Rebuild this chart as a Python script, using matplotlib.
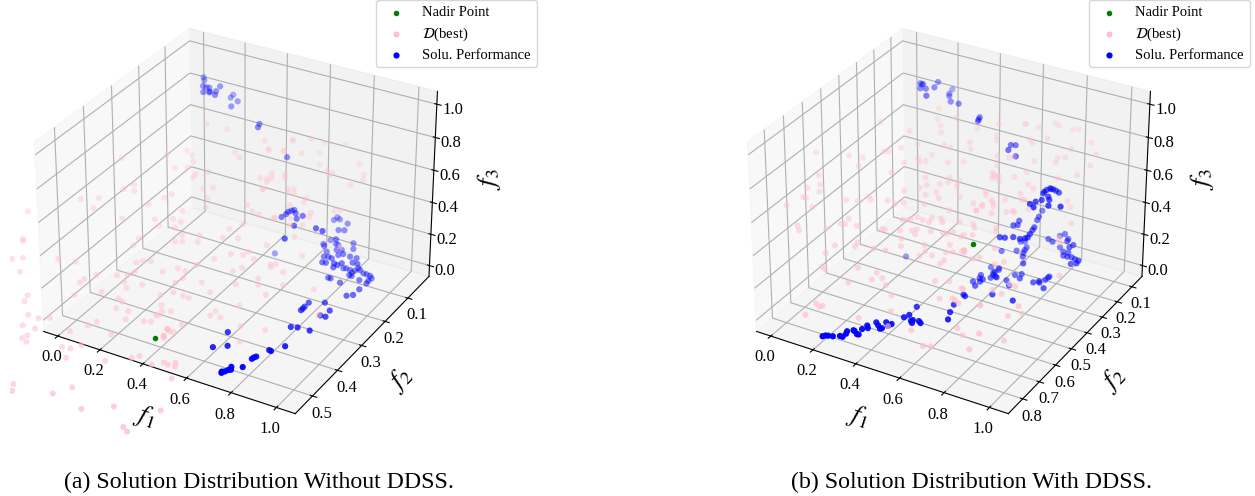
import numpy as np
import matplotlib
matplotlib.use('Agg')
import matplotlib.pyplot as plt

plt.rcParams['font.family'] = ['Liberation Serif', 'DejaVu Serif']
plt.rcParams['mathtext.fontset'] = 'stix'

# All f1, f2 values in thousandths, f3 values in hundredths.
pa_f1 = [127,214,374,474,406,464,117,53,147,296,321,-98,165,114,157,242,201,198,518,439,480,472,6,-18,21,262,292,473,562,583,161,142,-87,-146,103,296,-83,-307,310,234,451,481,510,572,602,42,158,221,254,188,244,477,645,439,-260,142,287,349,434,490,-257,-254,-220,-93,-198,-28,137,187,203,232,293,341,371,275,299,356,494,540,448,399,536,560,553,587,653,713,603,71,145,180,198,41,32,184,249,126,202,196,216,362,378,453,501,572,638,651,-121,-121,38,334,415,375,437,358,209,255,401,371,359,368,554,547,627,583,465,354,265,329,169,0,-37,-80,-76,-27,148,95,243,-54,-39,-30,105,139,164,161,451,436,429,402,383,305,509,530,549,562,499,604,683,691,735,88,110,254,295,405,502,669,605,633,774,793,474,536,581,657,406,464,529,596,602,737,518,480,472,674,668,686,788,794,767,474,562,584,640,639,774,762,573,691,705,675,604,668,834,723,652,676,713,802,883,737,766,882]
pa_f2 = [98,89,71,43,84,71,168,195,173,125,129,248,183,213,199,188,203,212,114,146,135,147,284,304,295,224,210,166,140,134,264,277,343,365,305,237,367,437,254,282,209,214,214,204,168,357,327,307,305,334,319,246,203,270,490,374,326,310,290,278,492,534,520,489,547,476,391,419,408,401,407,387,383,344,336,323,309,300,336,363,337,322,290,298,289,291,261,477,458,446,434,497,506,462,448,500,469,495,495,414,398,388,396,356,325,336,578,589,531,448,428,432,425,464,512,504,463,472,485,483,420,434,389,425,474,499,522,505,552,591,603,607,630,623,567,592,558,649,641,651,627,624,604,655,495,497,513,580,593,627,576,578,566,578,612,624,432,441,381,779,799,768,733,784,747,715,794,803,769,796,43,22,6,-16,84,71,55,40,43,-4,114,135,147,55,71,80,25,35,63,165,140,134,133,142,111,125,204,166,173,179,167,206,167,223,287,288,291,244,296,381,410,237]
pa_f3 = [66,65,61,61,59,58,58,57,57,58,56,56,55,53,53,52,51,50,51,50,50,49,48,47,46,47,47,47,47,47,45,44,44,44,42,44,41,40,41,40,42,40,39,38,42,38,38,38,37,36,35,36,36,35,32,32,33,33,32,32,31,26,26,26,22,25,30,25,25,25,22,23,22,31,31,31,27,27,26,24,22,23,28,26,24,22,30,21,21,21,22,20,19,19,18,16,17,14,13,19,20,19,16,18,20,18,15,13,15,15,15,16,14,12,11,10,10,10,9,9,10,9,12,8,6,7,8,7,7,8,8,9,6,5,6,4,3,2,3,1,0,0,0,0,4,4,2,0,0,0,0,0,0,0,4,2,8,0,0,0,0,0,0,0,0,0,0,0,61,62,62,62,59,58,58,58,57,58,51,50,49,53,51,50,53,52,49,47,47,47,45,44,43,42,38,39,38,38,42,34,34,30,25,23,22,25,14,8,3,22]
ba_f1 = [57,40,79,98,109,108,131,130,150,163,142,165,161,207,207,343,352,481,563,567,566,573,580,598,633,623,641,728,761,658,682,684,701,745,737,759,763,689,700,734,746,794,815,730,699,755,739,754,769,800,773,784,759,777,798,832,861,863,885,818,827,812,800,810,830,846,850,866,854,858,846,890,905,923,937,934,937,900,841,781,792,933,911,931,498,804,804,805,804,860,905,912,890,906,829,854,877,846,831,626,630,675,810,805,803,801,762,771,762,756,750,747,751]
ba_f2 = [49,38,72,74,72,95,90,87,79,94,56,33,19,40,66,67,81,73,166,151,141,134,129,139,141,157,184,171,174,237,51,38,43,50,82,77,117,102,81,89,90,69,89,125,108,141,145,166,164,158,143,125,109,104,117,119,118,137,137,160,150,172,117,114,116,123,113,106,102,135,134,114,114,116,123,134,145,141,169,164,164,172,206,197,135,266,283,291,298,250,271,295,296,354,361,356,426,454,448,433,493,475,480,485,491,524,534,543,547,554,561,557]
ba_f3 = [85,85,85,85,85,85,85,85,85,85,85,76,76,76,76,70,70,55,33,33,33,33,33,33,33,33,33,33,33,33,20,20,20,20,20,20,20,12,12,12,12,12,12,12,12,12,12,12,12,12,12,12,12,12,12,12,12,12,12,12,12,12,3,3,3,3,3,3,3,3,3,3,3,3,3,3,3,3,3,3,3,3,3,3,3,3,3,3,3,3,3,3,3,3,3,3,3,3,2,2,2,2,2,2,2,2,2,2,2,2,2,2]
pb_f1 = [161,242,182,-18,208,346,105,226,432,264,291,166,351,368,115,63,78,241,-176,-50,1,479,201,215,232,316,370,161,8,138,506,506,268,353,395,536,-113,-89,-126,-75,289,269,333,360,399,512,221,341,307,360,430,-109,-113,108,120,36,81,191,218,235,-159,-61,328,497,521,559,421,575,76,57,-74,-55,27,99,142,292,315,281,325,347,379,379,412,426,479,529,546,623,240,229,291,332,345,352,402,443,468,482,516,519,549,316,160,396,484,106,79,180,227,296,318,410,411,450,493,513,525,512,551,577,595,600,94,116,223,289,311,294,363,224,518,568,612,619,398,563,607,627,639,144,168,183,413,147,316,441,530,691,700,604,634,774,831,798,690,409,508,510,561,612,640,680,692,430,553,576,625,722,768,819,528,521,619,696,699,727,818,479,617,582,507,506,534,790,728,641,668,631,513,594,651,559,520,690,646,658,629,575,687,795,804,864,623,852,860,655,701,666,927,775,796,731,766,839,804,861,907,833,800,840]
pb_f2 = [98,97,133,228,149,99,207,168,90,197,193,234,152,169,269,307,298,243,416,375,356,149,275,286,269,242,215,310,389,357,202,217,317,279,274,215,474,495,523,517,336,353,312,296,294,263,385,344,365,354,317,553,561,452,456,496,482,444,433,407,603,574,400,321,298,280,368,312,530,552,642,656,599,579,563,457,462,470,435,433,419,436,408,415,382,363,378,348,521,525,497,479,466,485,455,436,444,423,420,406,394,520,581,485,446,645,665,620,572,587,525,530,500,510,515,506,532,461,461,481,448,416,706,713,656,630,625,664,669,712,577,557,540,542,679,608,588,600,595,798,808,807,703,859,766,753,731,668,649,757,748,705,723,769,557,46,5,17,-2,-42,-25,-60,-82,89,43,59,29,7,-61,-18,110,132,103,60,77,54,16,149,147,177,200,216,215,64,100,171,176,206,264,253,228,280,298,235,275,282,291,312,259,132,125,202,348,263,270,396,402,411,365,464,461,511,502,473,513,614,591,720,437,305]
pb_f3 = [71,68,68,67,66,65,64,64,63,60,59,60,61,59,59,58,58,57,58,57,56,57,56,55,55,55,55,55,54,52,51,50,50,50,49,49,51,48,47,46,48,47,48,49,48,46,46,46,45,44,44,44,45,44,43,43,43,44,42,41,42,42,43,43,41,40,40,39,36,34,36,35,34,38,37,37,39,38,38,37,38,37,38,37,36,35,35,35,35,35,34,34,34,33,34,33,34,34,32,32,32,32,29,28,28,31,27,31,27,30,28,26,26,26,23,30,28,26,28,30,24,22,23,23,23,20,17,19,19,19,19,19,15,15,15,13,13,14,12,11,11,12,8,10,6,5,4,6,0,0,0,0,14,67,67,66,66,67,65,66,67,63,62,60,61,61,63,58,58,56,55,56,55,56,55,57,52,51,52,50,49,53,52,49,48,47,46,44,44,43,43,42,40,39,40,40,40,47,47,39,35,34,33,30,28,28,22,20,19,17,16,16,14,2,3,0,21,31]
bb_f1 = [93,82,95,105,127,161,151,140,173,182,193,223,261,354,359,364,515,533,527,579,723,721,727,742,757,775,733,720,753,743,769,728,788,717,742,834,677,688,695,713,717,723,728,722,634,645,631,630,649,676,707,748,778,788,819,773,823,859,854,624,639,667,676,671,689,644,592,716,786,814,836,829,847,865,884,901,904,886,563,596,594,601,616,678,698,708,696,557,580,579,671,765,786,770,806,805,803,793,828,209,238,245,255,273,296,308,308,302,327,320,345,349,361,347,354,368,402,427,386,410,405,444,453,493,510,523,485,482,422,421,448,584,569,604,565,576,572,548,559,596,595,616,587,662]
bb_f2 = [115,111,111,140,134,174,113,76,31,61,75,105,105,95,108,119,113,107,145,169,188,164,150,151,154,160,152,177,198,226,214,244,246,265,277,233,127,164,185,228,245,270,291,300,216,241,249,332,327,311,311,184,150,132,154,192,166,178,196,191,184,211,244,228,266,244,269,300,160,178,176,199,198,195,200,202,219,231,296,289,313,332,337,299,284,309,361,351,370,386,431,431,295,309,255,262,278,301,323,363,874,866,863,859,847,847,828,815,803,801,783,759,770,814,813,731,716,716,742,750,755,666,647,681,662,669,666,673,725,730,597,573,531,611,468,473,406,388,361,342,290,331,313,331,282,422]
bb_f3 = [85,85,85,85,85,85,85,85,78,78,78,78,78,72,72,72,62,62,62,62,46,46,46,46,46,46,46,46,46,46,46,46,46,46,46,46,28,28,28,28,28,28,28,28,28,28,28,28,28,28,28,18,18,18,18,18,18,18,18,12,12,12,12,12,12,12,12,12,12,12,12,12,12,12,12,12,12,12,3,3,3,3,3,3,3,3,3,3,3,3,3,3,3,3,3,3,3,3,3,2,2,2,2,2,2,2,2,2,2,2,2,2,2,2,2,2,2,2,2,2,2,2,2,2,2,2,2,2,2,2,2,2,2,2,2,2,2,2,2,2,2,2,2,2]
nadir_a = [.462, .570, .12]
nadir_b = [.573, .422, .30]
f1_ticks = [0, .2, .4, .6, .8, 1]
f3_ticks = [0, .2, .4, .6, .8, 1]
f2_ticks_a = [.1, .2, .3, .4, .5]
f2_ticks_b = [.1, .2, .3, .4, .5, .6, .7, .8]

W, H = 1255, 496
fig = plt.figure(figsize=(W/100, H/100), dpi=100)
S = 448

def arr(a, b, c):
    n = min(len(a), len(b), len(c))
    return np.array(a[:n])/1000, np.array(b[:n])/1000, np.array(c[:n])/100

def panel(cx, cy, yl, yt, lx, nadir, pink, blue):
    ax = fig.add_axes([(cx-S/2)/W, 1-(cy+S/2)/H, S/W, S/H], projection='3d')
    ax.scatter(*[[v] for v in nadir], s=16, c='g', linewidths=0, label='Nadir Point')
    ax.scatter(*pink, s=19, c='pink', linewidths=0, label=r'$\mathcal{D}$(best)')
    ax.scatter(*blue, s=20, c='b', linewidths=0, label='Solu. Performance')
    ax.set_xlim(-0.068, 1.082); ax.set_ylim(*yl); ax.set_zlim(-0.07, 1.076)
    ax.set_xticks(f1_ticks); ax.set_yticks(yt); ax.set_zticks(f3_ticks)
    ax.tick_params(labelsize=12)
    ax.tick_params(axis='x', pad=-1); ax.tick_params(axis='y', pad=-2); ax.tick_params(axis='z', pad=-1)
    ax.set_xlabel('$f_1$', fontsize=19, labelpad=2)
    ax.set_ylabel('$f_2$', fontsize=19, labelpad=3)
    ax.set_zlabel('$f_3$', fontsize=19, labelpad=4)
    ax.legend(loc='upper right', bbox_to_anchor=(lx/W, 1+7/H), bbox_transform=fig.transFigure,
              fontsize=10.5, labelspacing=0.4)
    return ax

panel(233.8, 217.9, (0.567, 0.004), f2_ticks_a, 544, nadir_a, arr(pa_f1, pa_f2, pa_f3), arr(ba_f1, ba_f2, ba_f3))
panel(946.8, 217.9, (0.885, 0.03), f2_ticks_b, 1257, nadir_b, arr(pb_f1, pb_f2, pb_f3), arr(bb_f1, bb_f2, bb_f3))
fig.text(259.5/W, 1-482/H, '(a) Solution Distribution Without DDSS.', ha='center', va='center', fontsize=17.2)
fig.text(972/W, 1-482/H, '(b) Solution Distribution With DDSS.', ha='center', va='center', fontsize=17.2)
fig.savefig('out.png', dpi=100)
